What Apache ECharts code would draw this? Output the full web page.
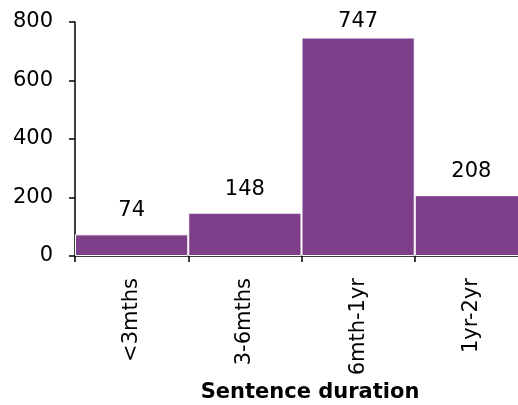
<!DOCTYPE html>
<html><head><meta charset="utf-8">
<script src="https://cdn.jsdelivr.net/npm/echarts@6/dist/echarts.min.js"></script>
<style>html,body{margin:0;padding:0;background:#fff}#c{width:518px;height:405px}</style>
</head><body><div id="c"></div>
<script>
const categories = ['<3mths', '3-6mths', '6mth-1yr', '1yr-2yr'];
const values = [74, 148, 747, 208];
const yTicks = [0, 200, 400, 600, 800];
const xTitle = 'Sentence duration';

const FONT = 'DejaVu Sans, Verdana, sans-serif';
const chart = echarts.init(document.getElementById('c'));
chart.setOption({
  animation: false,
  grid: { left: 75, top: 22, bottom: 149, right: -10, outerBoundsMode: 'none' },
  xAxis: {
    type: 'category', data: categories,
    axisLine: { lineStyle: { color: '#000', width: 1.5 } },
    axisTick: { show: true, length: 6, lineStyle: { color: '#000', width: 1.5 } },
    axisLabel: { rotate: 90, margin: 22, color: '#000', fontSize: 21, fontFamily: FONT }
  },
  yAxis: {
    type: 'value', min: yTicks[0], max: yTicks[yTicks.length - 1], interval: 200,
    splitLine: { show: false },
    axisLine: { show: true, lineStyle: { color: '#000', width: 1.5 } },
    axisTick: { show: true, length: 6, lineStyle: { color: '#000', width: 1.5 } },
    axisLabel: { margin: 22, color: '#000', fontSize: 21, fontFamily: FONT }
  },
  graphic: [{
    type: 'text', x: 310, y: 393,
    style: { text: xTitle, font: 'bold 21px ' + FONT, fill: '#000', textAlign: 'center', textVerticalAlign: 'middle' }
  }],
  series: [{
    type: 'bar',
    data: values.map((v, i) => ({ value: v, label: { distance: v > 700 ? 5 : 13 } })),
    barCategoryGap: 0, barWidth: '100%',
    itemStyle: { color: '#7E3F8A', borderColor: '#fff', borderWidth: 1 },
    label: { show: true, position: 'top', color: '#000', fontSize: 21, fontFamily: FONT }
  }]
});
</script></body></html>
